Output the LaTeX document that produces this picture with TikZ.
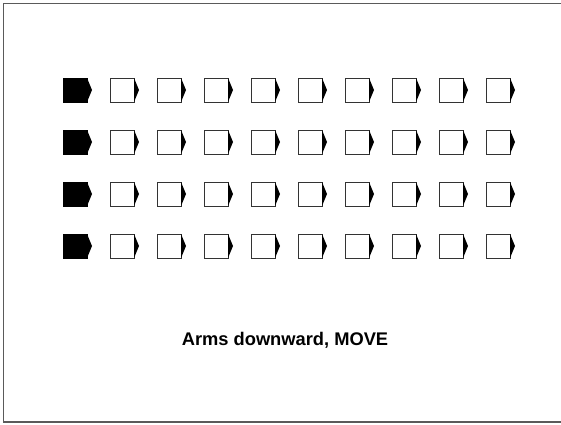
\documentclass[tikz,border=0pt]{standalone}
\usepackage{fontspec}
\setmainfont{Liberation Sans}
\usetikzlibrary{positioning}
\definecolor{FrameGray}{HTML}{5A5A5A}
\definecolor{TileEdge}{HTML}{333333}

\begin{document}
\begin{tikzpicture}[
  x=1pt, y=1pt,
  tile/.style={draw=TileEdge,fill=white,line width=0.8pt,minimum size=24pt,inner sep=0pt,outer sep=0pt},
  lead/.style={tile,draw=black,fill=black},
  caption/.style={font=\bfseries\fontsize{18.3}{22}\selectfont}
]
  \useasboundingbox (0,0) rectangle (561,424);

  % frame, right side runs off the page
  \draw[FrameGray,line width=1.8pt] (570,420.5) -- (3.5,420.5) -- (3.5,2) -- (570,2);

  % four rows: one black leader and nine empty tiles
  \foreach \r/\y in {1/334,2/282,3/230,4/178} {
    \node[lead] (t\r-0) at (75,\y) {};
    \foreach \c [evaluate=\c as \p using int(\c-1)] in {1,...,9}
      \node[tile, right=23pt of t\r-\p] (t\r-\c) {};
  }

  % pointed tips
  \foreach \r in {1,...,4}
    \foreach \c in {0,...,9}
      \fill (t\r-\c.north east) -- ([xshift=5pt]t\r-\c.east) -- (t\r-\c.south east) -- cycle;

  \node[caption] (label) at (285,84) {Arms downward, MOVE};
\end{tikzpicture}
\end{document}
